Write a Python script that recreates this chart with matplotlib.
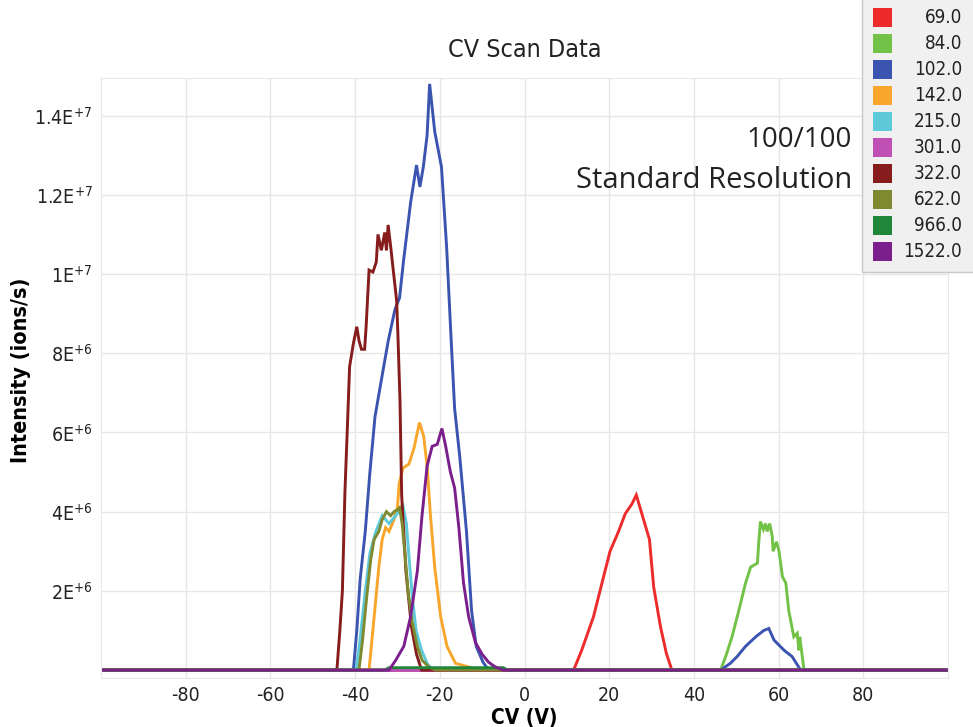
import numpy as np
import matplotlib
matplotlib.use("Agg")
import matplotlib.pyplot as plt
from matplotlib.patches import Rectangle
from matplotlib.ticker import FuncFormatter, FixedLocator

plt.rcParams['font.family'] = ['DejaVu Sans']
plt.rcParams['font.stretch'] = 'condensed'
plt.rcParams['axes.unicode_minus'] = False

# intensities are read in units of 1E+6 ions/s
names = ["69.0", "84.0", "102.0", "142.0", "215.0", "301.0", "322.0", "622.0", "966.0", "1522.0"]
colors = ["#ee2b2b", "#72c247", "#3a54b0", "#f8a62c", "#5ec9d9", "#c050b4",
          "#861c1c", "#7f8a30", "#20873a", "#7a1f8c"]

cv_69 = [-100, 11.6, 13.5, 16.3, 18.3, 20.2, 22.2, 23.8, 25.4, 26.4, 27.7, 29.5, 30.5, 32.1, 33.5, 34.8, 100]
int_69 = [0, 0, 0.5, 1.35, 2.2, 3.0, 3.5, 3.95, 4.2, 4.42, 3.95, 3.3, 2.1, 1.1, 0.42, 0, 0]

cv_84 = [-100, 46.3, 47.5, 49.0, 50.6, 52.2, 53.4, 55.0, 55.3, 55.7, 56.4, 56.9, 57.3, 57.9, 58.5,
         58.7, 59.5, 60.1, 60.9, 61.7, 62.4, 63.6, 64.4, 64.8, 65.0, 66.0, 100]
int_84 = [0, 0, 0.34, 0.84, 1.5, 2.2, 2.6, 2.7, 3.2, 3.75, 3.55, 3.7, 3.5, 3.7, 3.37,
          3.0, 3.24, 3.0, 2.36, 2.2, 1.5, 0.84, 0.93, 0.5, 0.84, 0, 0]

cv_102 = [-100, -40.4, -39.6, -38.8, -37.6, -36.5, -35.3, -34.0, -32.2, -30.6, -29.5, -28.6, -26.9,
          -25.5, -24.7, -23.9, -23.0, -22.4, -21.2, -19.6, -18.4, -17.3, -16.5, -15.3, -13.7,
          -12.5, -11.4, -9.8, -8.5, 46.3, 48.6, 50.2, 52.2, 54.6, 56.5, 57.7, 58.9, 61.3, 63.2, 65.2, 100]
int_102 = [0, 0, 1.0, 2.3, 3.5, 5.0, 6.4, 7.2, 8.3, 9.1, 9.4, 10.3, 11.8,
           12.75, 12.2, 12.7, 13.5, 14.8, 13.6, 12.7, 10.7, 8.3, 6.6, 5.4, 3.5,
           1.5, 0.6, 0.2, 0, 0, 0.17, 0.34, 0.6, 0.84, 1.0, 1.05, 0.76, 0.5, 0.34, 0, 0]

cv_142 = [-100, -36.7, -35.5, -34.4, -33.6, -32.8, -32.0, -30.8, -30.0, -29.6, -28.7, -27.3, -26.1,
          -24.8, -23.8, -23.0, -22.2, -21.2, -19.8, -18.3, -16.3, -13.2, -10.8, 100]
int_142 = [0, 0, 1.35, 2.6, 3.3, 3.6, 3.5, 3.8, 4.1, 4.7, 5.1, 5.2, 5.6,
           6.25, 5.9, 5.15, 3.9, 2.6, 1.35, 0.6, 0.17, 0.08, 0, 0]

cv_215 = [-100, -39.8, -38.9, -37.6, -36.5, -35.1, -33.6, -32.0, -30.4, -28.7, -27.9, -27.3,
          -26.5, -25.6, -24.3, -23.0, -21.8, 100]
int_215 = [0, 0, 0.7, 2.0, 2.95, 3.5, 3.9, 3.7, 3.9, 4.15, 3.7, 2.9,
           1.85, 1.0, 0.5, 0.17, 0, 0]

cv_301 = [-100, 100]
int_301 = [0, 0]

cv_322 = [-100, -44.3, -43.6, -43.0, -42.4, -41.8, -41.3, -40.4, -39.6, -39.1, -38.5, -37.75, -37.4,
          -36.7, -35.8, -35.0, -34.6, -33.8, -33.0, -32.6, -32.2, -31.5, -31.1, -30.2, -29.9,
          -29.4, -29.0, -28.0, -26.7, -25.5, -24.3, 100]
int_322 = [0, 0, 1.0, 2.0, 4.5, 6.2, 7.66, 8.25, 8.67, 8.33, 8.1, 8.1, 8.67,
           10.1, 10.05, 10.3, 11.0, 10.6, 11.05, 10.6, 11.24, 10.6, 10.2, 9.34, 8.5,
           6.8, 4.4, 2.5, 1.1, 0.4, 0, 0]

cv_622 = [-100, -39.1, -38.3, -37.3, -36.3, -35.5, -34.4, -33.6, -32.6, -31.6, -30.8, -30.0, -29.5,
          -28.9, -28.2, -27.5, -26.5, -25.3, -24.2, -22.6, -21.0, 100]
int_622 = [0, 0, 0.7, 1.8, 2.8, 3.3, 3.5, 3.8, 4.0, 3.9, 4.0, 4.05, 4.1,
           3.7, 2.9, 2.0, 1.2, 0.6, 0.25, 0.08, 0, 0]

cv_966 = [-100, -33, -32, -5, -4, 100]
int_966 = [0, 0, 0.06, 0.06, 0, 0]

cv_1522 = [-100, -32.0, -30.4, -28.5, -26.9, -25.3, -24.2, -23.0, -21.8, -20.6, -19.5, -18.7, -17.5,
           -16.5, -15.5, -14.4, -13.2, -11.6, -10.0, -8.5, -6.9, -5.0, 100]
int_1522 = [0, 0, 0.25, 0.6, 1.35, 2.5, 3.9, 5.15, 5.65, 5.7, 6.1, 5.7, 5.0,
            4.6, 3.6, 2.2, 1.35, 0.7, 0.4, 0.2, 0.08, 0, 0]

all_cv = [cv_69, cv_84, cv_102, cv_142, cv_215, cv_301, cv_322, cv_622, cv_966, cv_1522]
all_int = [int_69, int_84, int_102, int_142, int_215, int_301, int_322, int_622, int_966, int_1522]

x_ticks = [-80, -60, -40, -20, 0, 20, 40, 60, 80]
y_ticks = [2e6, 4e6, 6e6, 8e6, 1e7, 1.2e7, 1.4e7]


def sci_label(v, pos=None):
    e = int(np.floor(np.log10(v)))
    m = v / 10**e
    return f"{m:g}E$^{{+{e}}}$"


fig = plt.figure(figsize=(9.73, 7.27), dpi=100)
ax = fig.add_axes([101/973, 49/727, 847/973, 600/727])

for cv, inten, c in zip(all_cv, all_int, colors):
    ax.plot(cv, np.array(inten) * 1e6, color=c, lw=2.1, solid_joinstyle='miter')

ax.set_xlim(-100, 100)
ax.set_ylim(-0.2e6, 1.495e7)
ax.xaxis.set_major_locator(FixedLocator(x_ticks))
ax.yaxis.set_major_locator(FixedLocator(y_ticks))
ax.yaxis.set_major_formatter(FuncFormatter(sci_label))
ax.tick_params(length=0, labelsize=14, colors='#222222', pad=6)
ax.tick_params(axis='x', pad=6)
ax.grid(True, color='#e6e6e6', lw=1)
ax.set_axisbelow(True)
for s in ax.spines.values():
    s.set_color('#e8e8e8')

ax.set_xlabel("CV (V)", fontsize=15, fontweight='bold')
ax.xaxis.set_label_coords(0.5, -0.05)
ax.set_ylabel("Intensity (ions/s)", fontsize=15.5, fontweight='bold')
ax.yaxis.set_label_coords(-0.083, 0.513)

fig.text(525/973, 1 - 57/727, "CV Scan Data", fontsize=18, ha='center', va='baseline', color='#222222')
fig.text(852/973, 1 - 147/727, "100/100", fontsize=20, ha='right', va='baseline',
         family='Open Sans', stretch='normal', color='#222222')
fig.text(852/973, 1 - 188/727, "Standard Resolution", fontsize=21, ha='right', va='baseline',
         family='Open Sans', stretch='normal', color='#222222')

# legend box at the top right, partly cut by the figure edge
fig.patches.append(Rectangle((862/973, 1 - 272/727), 120/973, 280/727, transform=fig.transFigure,
                             facecolor='#f0f0f0', edgecolor='#c8c8c8', lw=1, zorder=5))
for i, (n, c) in enumerate(zip(names, colors)):
    yc = 17.6 + 26 * i
    fig.patches.append(Rectangle((873/973, 1 - (yc + 9.5)/727), 19/973, 19/727,
                                 transform=fig.transFigure, facecolor=c, edgecolor='none', zorder=6))
    fig.text(962/973, 1 - yc/727, n, fontsize=13.5, ha='right', va='center', color='#222222', zorder=7)

fig.savefig("out.png", dpi=100)
